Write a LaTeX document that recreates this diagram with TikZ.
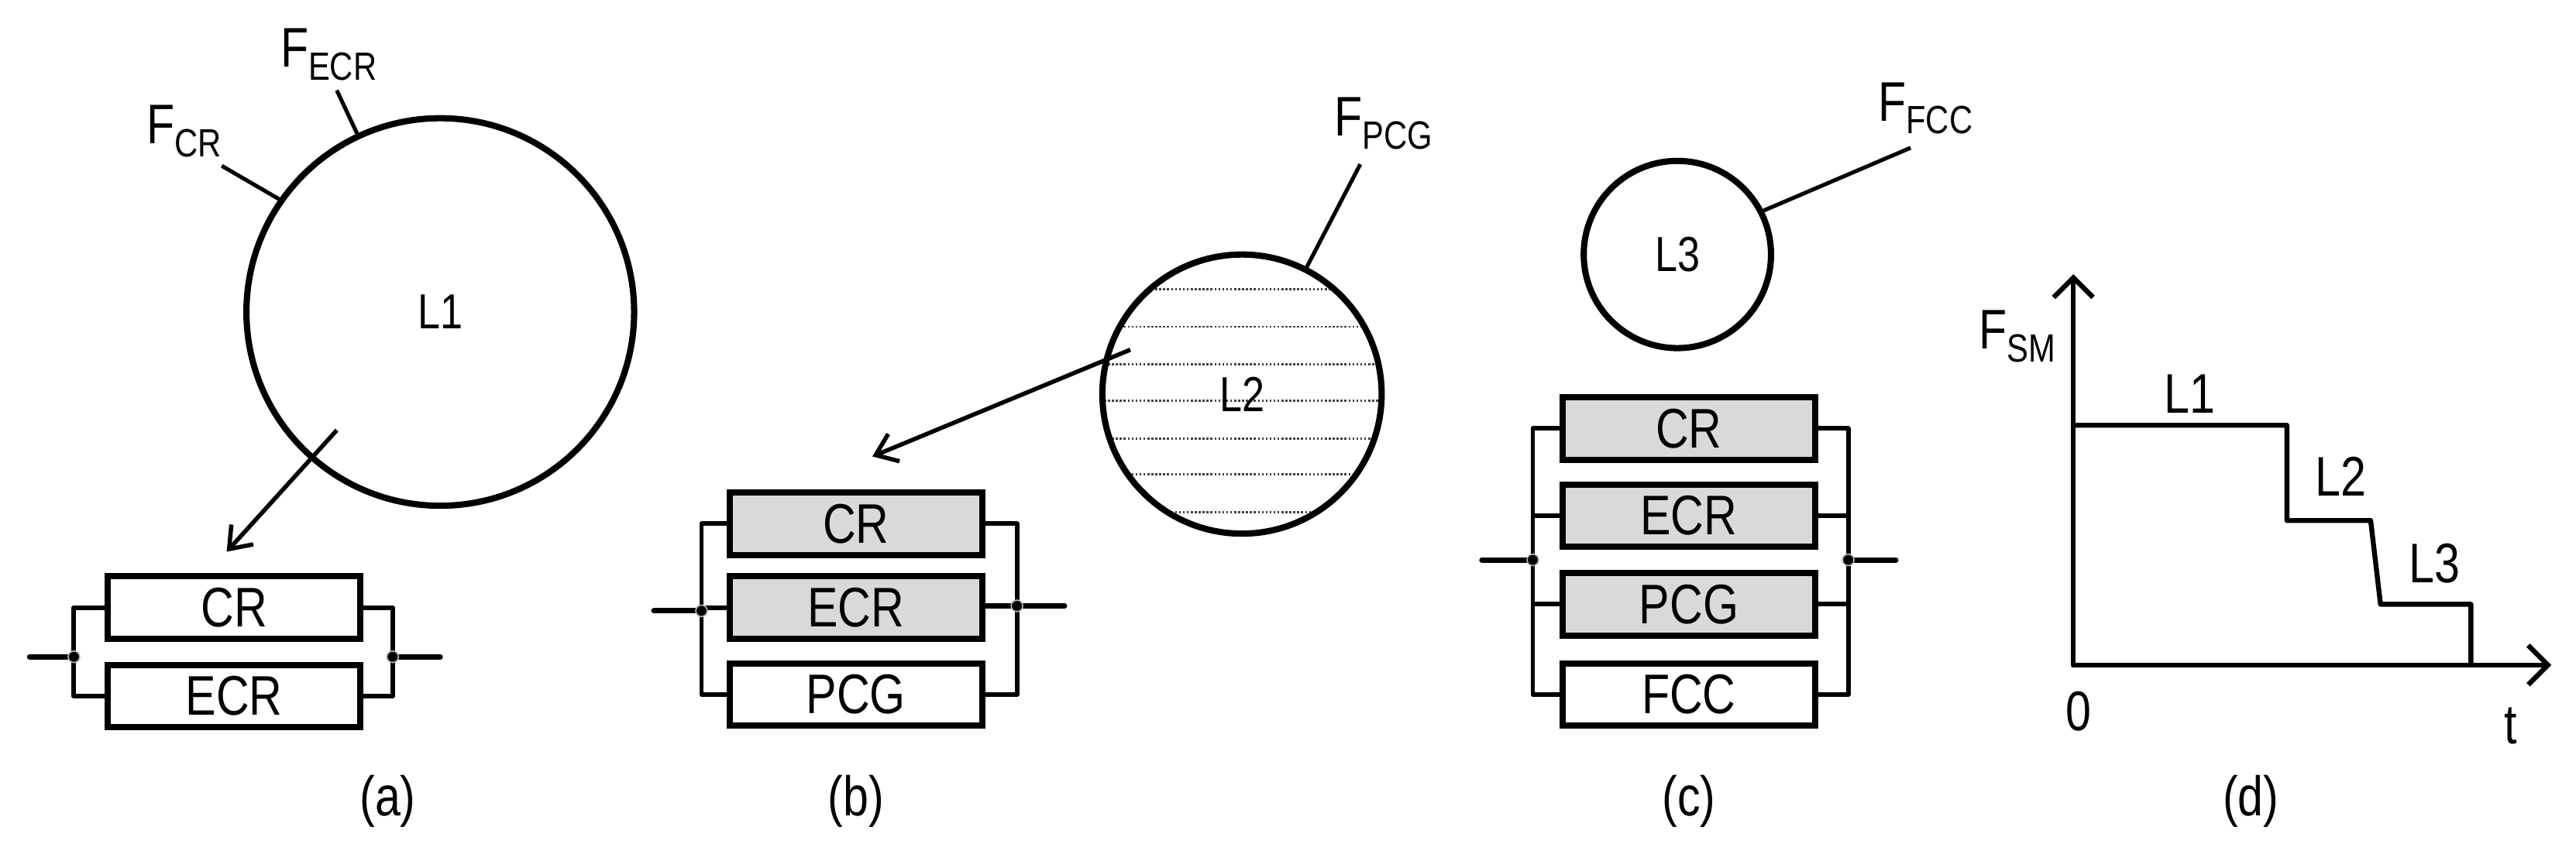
\documentclass[tikz,border=0pt]{standalone}
\usepackage{fontspec}
\setmainfont{Liberation Sans}[FakeStretch=0.82]
\usetikzlibrary{arrows.meta}
\newcommand{\Fs}[1]{F{\fontsize{12}{12}\selectfont\raisebox{-4pt}{#1}}}
\begin{document}
\begin{tikzpicture}[x=0.5pt,y=-0.5pt,
  blk/.style={draw,line width=1.9pt,minimum width=77pt,minimum height=19pt,inner sep=0pt,font=\fontsize{17}{17}\selectfont},
  bus/.style={line width=1.4pt,line join=round},
  wire/.style={line width=1.6pt,line cap=round},
  tick/.style={line width=1.2pt},
  ring/.style={draw,circle,line width=1.9pt,inner sep=0pt},
  jn/.style={circle,fill=black,draw=black!30,line width=0.4pt,minimum size=3.5pt,inner sep=0pt},
  lab/.style={font=\fontsize{17}{17}\selectfont,inner sep=0pt},
  llab/.style={font=\fontsize{15}{15}\selectfont,inner sep=0pt},
  hatch/.style={black!75,line width=0.7pt,dash pattern=on 0.6pt off 0.6pt},
  arr/.style={line width=1.3pt,-{Straight Barb[length=6pt,width=9pt,line width=1.3pt]}}]
\useasboundingbox (0,0) rectangle (1568,514);
% ================= (a)
\node[ring,minimum size=118pt] (L1) at (268,190) {};
\node[llab] (L1t) at (268,190) {L1};
\coordinate (FcrE) at (135,101);
\coordinate (FecrE) at (205,55);
\draw[tick] (L1.145) -- (FcrE);
\draw[tick] (L1.115) -- (FecrE);
\node[lab] (Fcr) at (112,80) {\Fs{CR}};
\node[lab] (Fecr) at (200,33) {\Fs{ECR}};
\node[blk] (a1) at (142.5,370) {CR};
\node[blk] (a2) at (142.5,424) {ECR};
\coordinate (ajl) at (45,400);
\coordinate (ajr) at (239,400);
\coordinate (ain) at (18,400);
\coordinate (aout) at (268,400);
\draw[bus] (a1.west) -| (ajl) |- (a2.west);
\draw[bus] (a1.east) -| (ajr) |- (a2.east);
\draw[wire] (ain) -- (ajl);
\draw[wire] (ajr) -- (aout);
\node[jn] (ajld) at (ajl) {};
\node[jn] (ajrd) at (ajr) {};
\coordinate (aarS) at (205,262);
\coordinate (aarE) at (138,336);
\draw[arr] (aarS) -- (aarE);
\node[lab] (capa) at (236,488) {(a)};
% ================= (b)
\begin{scope}
\clip (756,240) circle[radius=42pt];
\foreach \yy in {176,199,222,244,267,289,312}
  \draw[hatch] (660,\yy) -- (850,\yy);
\end{scope}
\node[ring,minimum size=85pt] (L2) at (756,240) {};
\node[llab] (L2t) at (756,240) {L2};
\coordinate (FpcgE) at (828,100);
\draw[tick] (L2.63) -- (FpcgE);
\node[lab] (Fpcg) at (842,75) {\Fs{PCG}};
\node[blk,fill=black!15] (b1) at (521,319) {CR};
\node[blk,fill=black!15] (b2) at (521,370) {ECR};
\node[blk] (b3) at (521,423) {PCG};
\coordinate (bjl) at (427,372);
\coordinate (bjr) at (619,369);
\coordinate (bin) at (398,372);
\coordinate (bout) at (648,369);
\draw[bus] (b1.west) -| (bjl) |- (b3.west);
\draw[bus] (b2.west) -- (b2.west -| bjl);
\draw[bus] (b1.east) -| (bjr) |- (b3.east);
\draw[wire] (bin) -- (bjl);
\draw[wire] (bjr) -- (bout);
\draw[wire] (b2.east |- bjr) -- (bjr);
\node[jn] (bjld) at (bjl) {};
\node[jn] (bjrd) at (bjr) {};
\coordinate (barS) at (688,213);
\coordinate (barE) at (531,278);
\draw[arr] (barS) -- (barE);
\node[lab] (capb) at (521,488) {(b)};
% ================= (c)
\node[ring,minimum size=57pt] (L3) at (1021,155) {};
\node[llab] (L3t) at (1021,155) {L3};
\coordinate (FfccE) at (1163,90);
\draw[tick] (L3.27) -- (FfccE);
\node[lab] (Ffcc) at (1172,66) {\Fs{FCC}};
\node[blk,fill=black!15] (c1) at (1028,261) {CR};
\node[blk,fill=black!15] (c2) at (1028,314) {ECR};
\node[blk,fill=black!15] (c3) at (1028,368) {PCG};
\node[blk] (c4) at (1028,423) {FCC};
\coordinate (cjl) at (933,341);
\coordinate (cjr) at (1125,341);
\coordinate (cin) at (902,341);
\coordinate (cout) at (1154,341);
\draw[bus] (c1.west) -| (cjl) |- (c4.west);
\draw[bus] (c2.west) -- (c2.west -| cjl);
\draw[bus] (c3.west) -- (c3.west -| cjl);
\draw[bus] (c1.east) -| (cjr) |- (c4.east);
\draw[bus] (c2.east) -- (c2.east -| cjr);
\draw[bus] (c3.east) -- (c3.east -| cjr);
\draw[wire] (cin) -- (cjl);
\draw[wire] (cjr) -- (cout);
\node[jn] (cjld) at (cjl) {};
\node[jn] (cjrd) at (cjr) {};
\node[lab] (capc) at (1028,488) {(c)};
% ================= (d)
\coordinate (O) at (1262,405);
\coordinate (Ytop) at (1262,167);
\coordinate (Xend) at (1553,405);
\draw[line width=1.5pt,line cap=round,-{Straight Barb[length=6pt,width=12pt,line width=1.5pt]}] (O) -- (Ytop);
\draw[line width=1.5pt,line cap=round,-{Straight Barb[length=6pt,width=12pt,line width=1.5pt]}] (O) -- (Xend);
\coordinate (s1) at (1262,259);
\coordinate (s2) at (1392,259);
\coordinate (s3) at (1392,317);
\coordinate (s4) at (1443,317);
\coordinate (s5) at (1449,368);
\coordinate (s6) at (1504,368);
\coordinate (s7) at (1504,405);
\draw[line width=1.5pt,line join=round] (s1) -- (s2) -- (s3) -- (s4) -- (s5) -- (s6) -- (s7);
\node[lab] (Fsm) at (1228,205) {\Fs{SM}};
\node[lab] (dL1) at (1333,240) {L1};
\node[lab] (dL2) at (1425,290) {L2};
\node[lab] (dL3) at (1482,343) {L3};
\node[lab] (zero) at (1265,433) {0};
\node[lab] (tt) at (1528,442) {t};
\node[lab] (capd) at (1370,488) {(d)};
\end{tikzpicture}
\end{document}
